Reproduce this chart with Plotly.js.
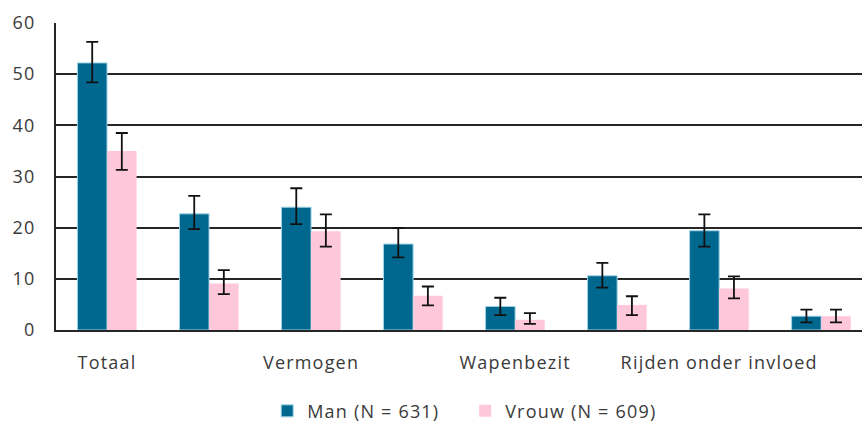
<!DOCTYPE html>
<html>
<head>
<meta charset="utf-8">
<script src="https://cdn.plot.ly/plotly-3.0.1.min.js"></script>
<style>
html,body{margin:0;padding:0;background:#fff;}
#chart .xtick text, #chart .ytick text, #chart .legendtext {letter-spacing: 1.2px;}
</style>
</head>
<body>
<div id="chart" style="width:862px;height:423px;"></div>
<script>
// Category positions (8 groups, only every other label shown)
var catIndex = [0, 1, 2, 3, 4, 5, 6, 7];
var tickLabels = ['Totaal', '', 'Vermogen', '', 'Wapenbezit', '', 'Rijden onder invloed', ''];

var manName = 'Man (N = 631)';
var manValues = [52.2, 22.7, 24.0, 16.8, 4.6, 10.6, 19.4, 2.7];
var manErrPlus = [4.1, 3.5, 3.7, 3.1, 1.7, 2.5, 3.2, 1.3];
var manErrMinus = [3.8, 3.0, 3.3, 2.6, 1.7, 2.3, 3.1, 1.2];

var vrouwName = 'Vrouw (N = 609)';
var vrouwValues = [35.0, 9.1, 19.3, 6.7, 2.0, 4.9, 8.1, 2.7];
var vrouwErrPlus = [3.5, 2.6, 3.3, 1.8, 1.3, 1.7, 2.4, 1.3];
var vrouwErrMinus = [3.7, 2.1, 3.0, 1.9, 0.8, 2.0, 1.9, 1.2];

var yTicks = [0, 10, 20, 30, 40, 50, 60];

var font = {family: 'Open Sans, DejaVu Sans, sans-serif', size: 18, color: '#3a3a3a'};

var traces = [
  {
    type: 'bar', name: manName, x: catIndex, y: manValues,
    marker: {color: '#00688f', line: {color: '#9fd3e6', width: 1}},
    error_y: {type: 'data', symmetric: false, array: manErrPlus, arrayminus: manErrMinus,
              color: '#111', thickness: 1.8, width: 6}
  },
  {
    type: 'bar', name: vrouwName, x: catIndex, y: vrouwValues,
    marker: {color: '#ffc7da', line: {width: 0}},
    error_y: {type: 'data', symmetric: false, array: vrouwErrPlus, arrayminus: vrouwErrMinus,
              color: '#111', thickness: 1.8, width: 6}
  }
];

var layout = {
  width: 862, height: 423,
  margin: {l: 56, r: 0, t: 23, b: 93},
  paper_bgcolor: '#fff', plot_bgcolor: '#fff',
  font: font,
  barmode: 'group', bargap: 0.42, bargroupgap: 0,
  showlegend: true,
  legend: {orientation: 'h', x: 0.262, xanchor: 'left', yref: 'container', y: 0.028, yanchor: 'middle',
           entrywidth: 153, entrywidthmode: 'pixels', font: font, itemclick: false},
  xaxis: {
    range: [-0.5, 7.4], tickvals: catIndex, ticktext: tickLabels,
    showgrid: false, zeroline: false, showline: true, linecolor: '#262626', linewidth: 2,
    ticks: '', ticklabelstandoff: 15, tickfont: font, fixedrange: true, automargin: false
  },
  yaxis: {
    range: [0, 60], tickvals: yTicks, ticktext: yTicks.map(String),
    showgrid: true, gridcolor: '#262626', gridwidth: 2, zeroline: false,
    showline: true, linecolor: '#262626', linewidth: 2,
    ticks: '', ticklabelstandoff: 15, tickfont: font, fixedrange: true, automargin: false
  }
};

Plotly.newPlot('chart', traces, layout, {displayModeBar: false, staticPlot: true});
</script>
</body>
</html>
